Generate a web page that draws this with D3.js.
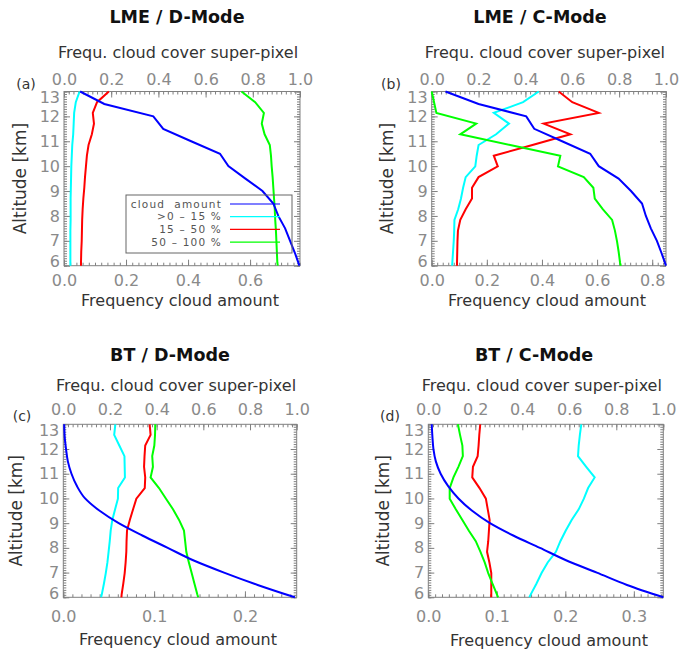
<!DOCTYPE html>
<html>

<head>
  <meta charset="utf-8">
  <title>Cloud cover profiles</title>
  <script src="https://d3js.org/d3.v7.min.js"></script>
  <style>
    body { margin: 0; background: #fff; }
    text { font-family: "DejaVu Sans", Verdana, sans-serif; }
  </style>
</head>

<body>
  <script>
    var width = 679;
    var height = 650;

    // altitude levels (km)
    var altAmount = [13, 12.5, 12, 11.5, 11, 10.5, 10, 9.5, 9, 8.5, 8, 7.5, 7, 6.5, 6];
    var altCover = [13.0, 12.57, 12.14, 11.71, 11.28, 10.85, 10.42, 9.99, 9.56, 9.13, 8.70, 8.27, 7.84, 7.41, 6.98, 6.55, 6.12, 6.0];

    // LME / D-Mode
    var lmeD_amount = [0.052, 0.13, 0.288, 0.32, 0.41, 0.503, 0.53, 0.585, 0.64, 0.675, 0.691, 0.713, 0.729, 0.745, 0.759];
    var lmeD_low = [0.066, 0.05, 0.043, 0.041, 0.039, 0.035, 0.033, 0.031, 0.030, 0.029, 0.028, 0.028, 0.028, 0.027, 0.027, 0.027, 0.027, 0.027];
    var lmeD_mid = [0.19, 0.14, 0.122, 0.127, 0.118, 0.104, 0.097, 0.093, 0.089, 0.086, 0.082, 0.079, 0.077, 0.076, 0.075, 0.073, 0.072, 0.072];
    var lmeD_high = [0.752, 0.81, 0.847, 0.838, 0.85, 0.872, 0.877, 0.88, 0.884, 0.887, 0.89, 0.893, 0.895, 0.898, 0.9, 0.902, 0.904, 0.906];

    // LME / C-Mode
    var lmeC_amount = [0.05, 0.17, 0.343, 0.372, 0.473, 0.575, 0.606, 0.678, 0.723, 0.763, 0.777, 0.795, 0.817, 0.834, 0.85];
    var lmeC_low = [0.457, 0.39, 0.265, 0.33, 0.275, 0.2, 0.192, 0.186, 0.145, 0.134, 0.125, 0.113, 0.097, 0.096, 0.094, 0.091, 0.088, 0.087];
    var lmeC_mid = [0.542, 0.6, 0.713, 0.478, 0.592, 0.43, 0.265, 0.282, 0.2, 0.172, 0.172, 0.145, 0.122, 0.112, 0.11, 0.109, 0.108, 0.108];
    var lmeC_high = [0.0, 0.01, 0.02, 0.19, 0.122, 0.335, 0.549, 0.539, 0.649, 0.69, 0.696, 0.73, 0.77, 0.782, 0.791, 0.798, 0.804, 0.807];

    // BT / D-Mode
    var btD_amount = [0.001, 0.0015, 0.003, 0.005, 0.009, 0.015, 0.024, 0.040, 0.061, 0.087, 0.115, 0.143, 0.177, 0.214, 0.255];
    var btD_low = [0.223, 0.218, 0.24, 0.262, 0.263, 0.264, 0.235, 0.234, 0.222, 0.21, 0.203, 0.199, 0.194, 0.189, 0.182, 0.174, 0.165, 0.162];
    var btD_mid = [0.37, 0.374, 0.351, 0.348, 0.346, 0.351, 0.349, 0.313, 0.299, 0.285, 0.273, 0.271, 0.27, 0.267, 0.263, 0.257, 0.25, 0.249];
    var btD_high = [0.394, 0.393, 0.39, 0.381, 0.384, 0.374, 0.41, 0.44, 0.47, 0.496, 0.517, 0.522, 0.527, 0.538, 0.55, 0.562, 0.574, 0.578];

    // BT / C-Mode
    var btC_amount = [0.005, 0.006, 0.0075, 0.011, 0.018, 0.029, 0.044, 0.064, 0.09, 0.124, 0.163, 0.201, 0.246, 0.29, 0.343];
    var btC_low = [0.651, 0.645, 0.64, 0.637, 0.672, 0.708, 0.68, 0.662, 0.64, 0.61, 0.585, 0.562, 0.543, 0.508, 0.482, 0.46, 0.436, 0.43];
    var btC_mid = [0.221, 0.217, 0.214, 0.21, 0.19, 0.187, 0.218, 0.245, 0.253, 0.261, 0.258, 0.255, 0.25, 0.26, 0.268, 0.268, 0.268, 0.268];
    var btC_high = [0.126, 0.135, 0.145, 0.147, 0.128, 0.107, 0.091, 0.091, 0.117, 0.145, 0.172, 0.202, 0.222, 0.24, 0.255, 0.273, 0.292, 0.297];

    // tick labels
    var altTicks = [6, 7, 8, 9, 10, 11, 12, 13];
    var coverTicks = [0, 0.2, 0.4, 0.6, 0.8, 1.0];
    var lmeD_ticks = [0, 0.2, 0.4, 0.6];
    var lmeC_ticks = [0, 0.2, 0.4, 0.6, 0.8];
    var btD_ticks = [0, 0.1, 0.2];
    var btC_ticks = [0, 0.1, 0.2, 0.3];

    var legendLabels = ["cloud  amount", ">0 \u2013 15 %", "15 \u2013 50 %", "50 \u2013 100 %"];
    var colors = ["#0000ff", "#00ffff", "#ff0000", "#00ff00"];

    var panels = [
      { letter: "(a)", title: "LME / D-Mode", amount: lmeD_amount, cover: [lmeD_low, lmeD_mid, lmeD_high],
        xmax: 0.761, ticks: lmeD_ticks, tickStep: 0.2, smooth: false, legend: true,
        x0: 64, x1: 300, y0: 91.5, y1: 265.7, titleX: 177, titleY: 23, topLabY: 58, topTickPad: 7,
        botTickPad: 9, botLabY: 306, botLabX: 180, yLabX: 20, letterX: 26, letterY: 89 },
      { letter: "(b)", title: "LME / C-Mode", amount: lmeC_amount, cover: [lmeC_low, lmeC_mid, lmeC_high],
        xmax: 0.85, ticks: lmeC_ticks, tickStep: 0.2, smooth: false, legend: false,
        x0: 431.7, x1: 666, y0: 91.5, y1: 265.7, titleX: 540, titleY: 23, topLabY: 58, topTickPad: 7,
        botTickPad: 9, botLabY: 306, botLabX: 547, yLabX: 387, letterX: 391, letterY: 89 },
      { letter: "(c)", title: "BT / D-Mode", amount: btD_amount, cover: [btD_low, btD_mid, btD_high],
        xmax: 0.257, ticks: btD_ticks, tickStep: 0.1, smooth: true, legend: false,
        x0: 63.3, x1: 296.7, y0: 424.3, y1: 597.3, titleX: 170, titleY: 361, topLabY: 391, topTickPad: 9,
        botTickPad: 13, botLabY: 645, botLabX: 178, yLabX: 16, letterX: 22, letterY: 421 },
      { letter: "(d)", title: "BT / C-Mode", amount: btC_amount, cover: [btC_low, btC_mid, btC_high],
        xmax: 0.343, ticks: btC_ticks, tickStep: 0.1, smooth: true, legend: false,
        x0: 428.3, x1: 663.3, y0: 424.3, y1: 597.3, titleX: 534, titleY: 361, topLabY: 391, topTickPad: 9,
        botTickPad: 13, botLabY: 646, botLabX: 549, yLabX: 383, letterX: 390, letterY: 421 }
    ];

    var svg = d3.select("body").append("svg").attr("width", width).attr("height", height);

    function minorValues(max, step) {
      var out = [];
      for (var i = 0; i * step / 10 <= max + 1e-9; i++) out.push(i * step / 10);
      return out;
    }

    function styleAxis(g) {
      g.select(".domain").remove();
      g.selectAll("line").attr("stroke", "#808080");
      g.selectAll("text").attr("fill", "#8a8a8a").attr("font-size", 16)
        .attr("font-family", "DejaVu Sans, sans-serif");
    }

    panels.forEach(function (p) {
      var x = d3.scaleLinear().domain([0, p.xmax]).range([p.x0, p.x1]);
      var xTop = d3.scaleLinear().domain([0, 1]).range([p.x0, p.x1]);
      var y = d3.scaleLinear().domain([6, 13]).range([p.y1, p.y0]);
      var fmt = d3.format(".1f");

      var g = svg.append("g");

      // minor ticks
      var minorY = d3.range(60, 131).map(function (d) { return d / 10; });
      g.append("g").attr("transform", "translate(" + p.x0 + ",0)")
        .call(d3.axisLeft(y).tickValues(minorY).tickSize(-3).tickFormat("")).call(styleAxis);
      g.append("g").attr("transform", "translate(" + p.x1 + ",0)")
        .call(d3.axisRight(y).tickValues(minorY).tickSize(-3).tickFormat("")).call(styleAxis);
      g.append("g").attr("transform", "translate(0," + p.y1 + ")")
        .call(d3.axisBottom(x).tickValues(minorValues(p.xmax, p.tickStep)).tickSize(-3).tickFormat("")).call(styleAxis);
      g.append("g").attr("transform", "translate(0," + p.y0 + ")")
        .call(d3.axisTop(xTop).tickValues(minorValues(1, 0.2)).tickSize(-3).tickFormat("")).call(styleAxis);

      // major ticks + labels
      var left = g.append("g").attr("transform", "translate(" + p.x0 + ",0)")
        .call(d3.axisLeft(y).tickValues(altTicks).tickSize(-6).tickPadding(4).tickFormat(d3.format("d")))
        .call(styleAxis);
      left.selectAll("text").attr("dy", function (d) {
        return d === 13 ? "0.68em" : d === 6 ? "0.08em" : "0.32em";
      });
      g.append("g").attr("transform", "translate(" + p.x1 + ",0)")
        .call(d3.axisRight(y).tickValues(altTicks).tickSize(-6).tickFormat("")).call(styleAxis);
      g.append("g").attr("transform", "translate(0," + p.y1 + ")")
        .call(d3.axisBottom(x).tickValues(p.ticks).tickSize(-6).tickPadding(p.botTickPad).tickFormat(fmt))
        .call(styleAxis);
      g.append("g").attr("transform", "translate(0," + p.y0 + ")")
        .call(d3.axisTop(xTop).tickValues(coverTicks).tickSize(-6).tickPadding(p.topTickPad).tickFormat(fmt))
        .call(styleAxis);

      // frame
      g.append("rect")
        .attr("x", p.x0).attr("y", p.y0)
        .attr("width", p.x1 - p.x0).attr("height", p.y1 - p.y0)
        .attr("fill", "none").attr("stroke", "#808080").attr("stroke-width", 1);

      // profiles
      var coverLine = d3.line()
        .x(function (d) { return xTop(d[1]); })
        .y(function (d) { return y(d[0]); });
      var amountLine = d3.line()
        .x(function (d) { return x(d[1]); })
        .y(function (d) { return y(d[0]); })
        .curve(p.smooth ? d3.curveMonotoneY : d3.curveLinear);

      p.cover.forEach(function (vals, i) {
        g.append("path")
          .datum(d3.zip(altCover, vals))
          .attr("d", coverLine)
          .attr("fill", "none").attr("stroke", colors[i + 1]).attr("stroke-width", 2);
      });
      g.append("path")
        .datum(d3.zip(altAmount, p.amount))
        .attr("d", amountLine)
        .attr("fill", "none").attr("stroke", colors[0]).attr("stroke-width", 2);

      // legend
      if (p.legend) {
        var lg = g.append("g");
        lg.append("rect").attr("x", 126).attr("y", 195).attr("width", 166).attr("height", 58)
          .attr("fill", "none").attr("stroke", "#666").attr("stroke-width", 1);
        legendLabels.forEach(function (lab, i) {
          var ly = 204 + i * 12.7;
          lg.append("text").attr("x", 222).attr("y", ly).attr("dy", "0.36em")
            .attr("text-anchor", "end").attr("font-size", 10.5).attr("letter-spacing", 1.2)
            .attr("fill", "#555")
            .style("white-space", "pre").text(lab);
          lg.append("line").attr("x1", 230).attr("x2", 280).attr("y1", ly).attr("y2", ly)
            .attr("stroke", colors[i]).attr("stroke-width", 1.2);
        });
      }

      // texts
      svg.append("text").attr("x", p.titleX).attr("y", p.titleY)
        .attr("text-anchor", "middle").attr("font-size", 17.5).attr("font-weight", "bold")
        .attr("fill", "#111").text(p.title);
      svg.append("text").attr("x", (p.x0 + p.x1) / 2 - 4).attr("y", p.topLabY)
        .attr("text-anchor", "middle").attr("font-size", 16).attr("fill", "#333")
        .text("Frequ. cloud cover super-pixel");
      svg.append("text").attr("x", p.botLabX).attr("y", p.botLabY)
        .attr("text-anchor", "middle").attr("font-size", 16).attr("fill", "#333")
        .text("Frequency cloud amount");
      svg.append("text")
        .attr("transform", "translate(" + p.yLabX + "," + (p.y0 + p.y1) / 2 + ") rotate(-90)")
        .attr("text-anchor", "middle").attr("dy", "0.35em").attr("font-size", 17).attr("fill", "#333")
        .text("Altitude [km]");
      svg.append("text").attr("x", p.letterX).attr("y", p.letterY)
        .attr("text-anchor", "middle").attr("font-size", 14).attr("fill", "#333")
        .text(p.letter);
    });
  </script>
</body>

</html>
